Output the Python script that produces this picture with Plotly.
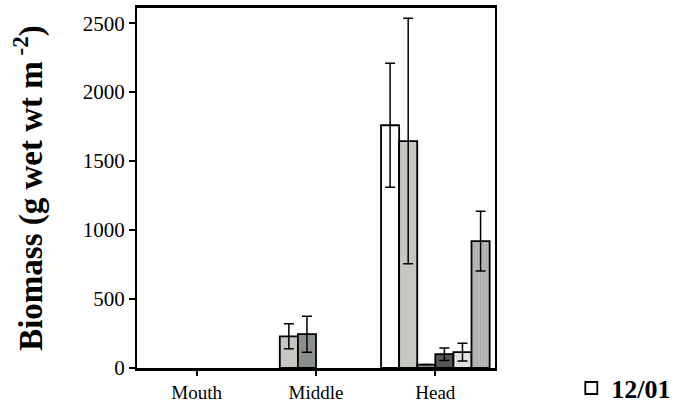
import plotly.graph_objects as go

categories = ["Mouth", "Middle", "Head"]
series_names = ["12/01", "01/02", "02/02", "03/02", "04/02", "05/02"]

s1_vals = [0, 0, 1760]
s2_vals = [0, 230, 1645]
s3_vals = [0, 245, 25]
s4_vals = [0, 0, 100]
s5_vals = [0, 0, 115]
s6_vals = [0, 0, 920]

s1_err = [None, None, 450]
s2_err = [None, 90, 890]
s3_err = [None, 130, None]
s4_err = [None, None, 45]
s5_err = [None, None, 65]
s6_err = [None, None, 217]

values = [s1_vals, s2_vals, s3_vals, s4_vals, s5_vals, s6_vals]
errors = [s1_err, s2_err, s3_err, s4_err, s5_err, s6_err]
fills = ["#ffffff", "#c6c6c2", "#8c908c", "#575757", "#e2e2e0", "#b4b4b4"]
patterns = [None, None, None, None,
            dict(shape="|", fgcolor="#c8c8c8", bgcolor="#e6e6e4", size=3, solidity=0.25),
            dict(shape="|", fgcolor="#9a9a9a", bgcolor="#b8b8b8", size=3, solidity=0.35)]

fig = go.Figure()
for i in range(6):
    # zero-valued bars are not drawn (they are invisible in the original)
    yv = [v if v > 0 else None for v in values[i]]
    marker = dict(color=fills[i], line=dict(color="black", width=1.8))
    if patterns[i]:
        marker["pattern"] = patterns[i]
    fig.add_trace(go.Bar(
        x=categories, y=yv, name=series_names[i],
        marker=marker,
        showlegend=(i == 0),
        error_y=dict(type="data", array=errors[i], visible=True,
                     color="black", thickness=1.5, width=5),
    ))

serif = "Liberation Serif"
fig.update_layout(
    width=685, height=403,
    margin=dict(l=137, r=190, t=8, b=35, autoexpand=False),
    paper_bgcolor="white", plot_bgcolor="white",
    barmode="group", bargap=0.09, bargroupgap=0,
    font=dict(family=serif, color="black"),
    legend=dict(xref="container", yref="container",
                x=0.834, y=0.037, xanchor="left", yanchor="middle",
                font=dict(family=serif, size=26, weight="bold", color="black"),
                bgcolor="rgba(0,0,0,0)"),
    xaxis=dict(showline=True, linecolor="black", linewidth=2.5, mirror=True,
               ticks="outside", ticklen=5, tickwidth=2, tickcolor="black",
               ticklabelstandoff=0, range=[-0.5, 2.5],
               tickfont=dict(family=serif, size=19, color="black"),
               automargin=False, showgrid=False),
    yaxis=dict(range=[0, 2610], showline=True, linecolor="black", linewidth=2, mirror=True,
               ticks="outside", ticklen=6, tickwidth=1.5, tickcolor="black",
               tickvals=[0, 500, 1000, 1500, 2000, 2500],
               tickfont=dict(family=serif, size=21, color="black"),
               showgrid=False, zeroline=False, automargin=False,
               title=dict(text="Biomass (g wet wt m<sup> -2</sup>)",
                          font=dict(family=serif, size=33, weight="bold", color="black"),
                          standoff=30)),
)

fig.write_html("out.html")
